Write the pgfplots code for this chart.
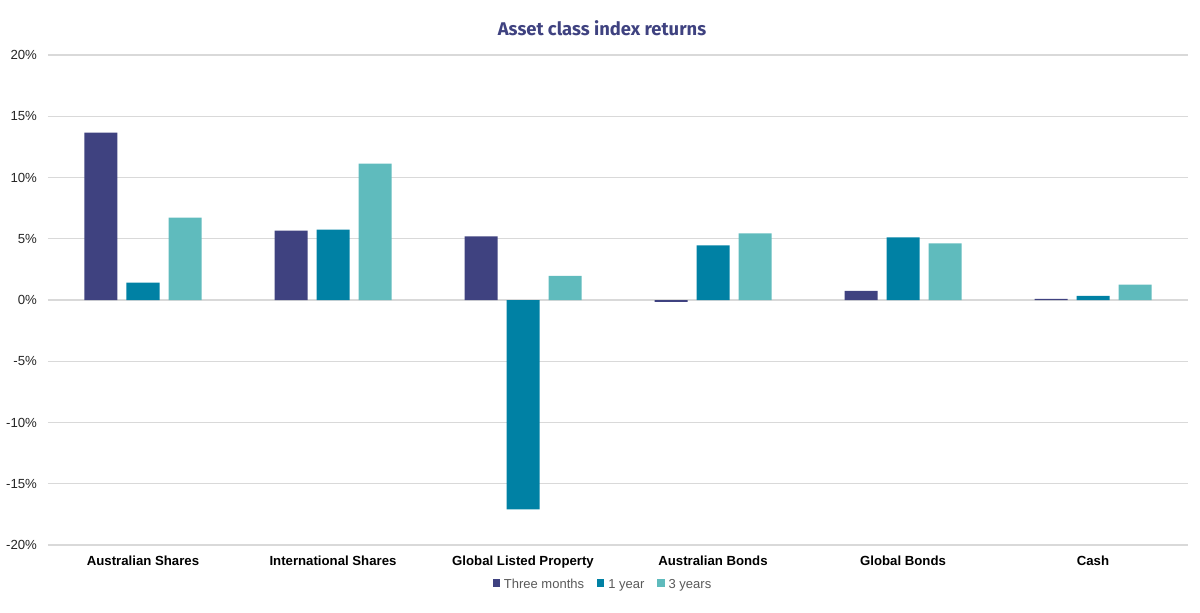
\documentclass[border=0pt]{standalone}
\usepackage{fontspec}
\setmainfont{Liberation Sans}
\newfontfamily\titlefont{Fira Sans}
\usepackage{pgfplots}
\pgfplotsset{compat=1.18}
\definecolor{cThree}{RGB}{63,66,128}
\definecolor{cOne}{RGB}{0,129,164}
\definecolor{cThreeY}{RGB}{95,187,189}
\definecolor{gridgray}{RGB}{217,217,217}
\definecolor{legtext}{RGB}{89,89,89}
\definecolor{ticktext}{RGB}{38,38,38}
\begin{document}
\begin{tikzpicture}
\path[use as bounding box] (-24pt,-33.5pt) rectangle (576pt,272.5pt);
\begin{axis}[
  at={(0pt,0pt)}, anchor=south west,
  scale only axis, width=570pt, height=245pt,
  ybar=4.5pt, bar width=16.5pt,
  xmin=-0.5, xmax=5.5, ymin=-20, ymax=20,
  xtick={0,1,2,3,4,5},
  xticklabels={Australian Shares, International Shares, Global Listed Property, Australian Bonds, Global Bonds, Cash},
  ytick={-20,-15,-10,-5,0,5,10,15,20},
  yticklabel={\pgfmathprintnumber{\tick}\%},
  /pgf/number format/assume math mode=true,
  axis line style={draw=none},
  tick style={draw=none},
  major tick length=0pt,
  ymajorgrids, major grid style={draw=gridgray, line width=0.6pt},
  yticklabel style={font=\fontsize{6.6}{8}\selectfont, text=ticktext, xshift=-2pt},
  xticklabel style={font=\fontsize{6.6}{8}\selectfont\bfseries, text=black, anchor=center, yshift=-7.5pt, text height=0.72em, text depth=0.22em},
  title={Asset class index returns},
  title style={font=\titlefont\bfseries\fontsize{9.2}{11}\selectfont, text=cThree, at={(axis description cs:0.5,1)}, anchor=center, yshift=7.5pt, xshift=-8pt},
  legend style={at={(axis description cs:0.5,0)}, anchor=center, yshift=-19pt, xshift=-7pt, draw=none, fill=none,
    font=\fontsize{6.5}{8}\selectfont, text=legtext, legend columns=-1,
    nodes={text height=0.72em, text depth=0.22em},
    /tikz/every even column/.append style={column sep=4.5pt}},
  legend image code/.code={\fill[#1] (0pt,-1.8pt) rectangle (3.6pt,1.8pt);},
]
\addplot[fill=cThree, draw=none] coordinates {(0,13.66) (1,5.66) (2,5.19) (3,-0.16) (4,0.75) (5,0.09)};
\addplot[fill=cOne, draw=none] coordinates {(0,1.41) (1,5.74) (2,-17.09) (3,4.45) (4,5.11) (5,0.34)};
\addplot[fill=cThreeY, draw=none] coordinates {(0,6.72) (1,11.13) (2,1.98) (3,5.43) (4,4.62) (5,1.25)};
\legend{Three months, 1 year, 3 years}
\end{axis}
\end{tikzpicture}
\end{document}
